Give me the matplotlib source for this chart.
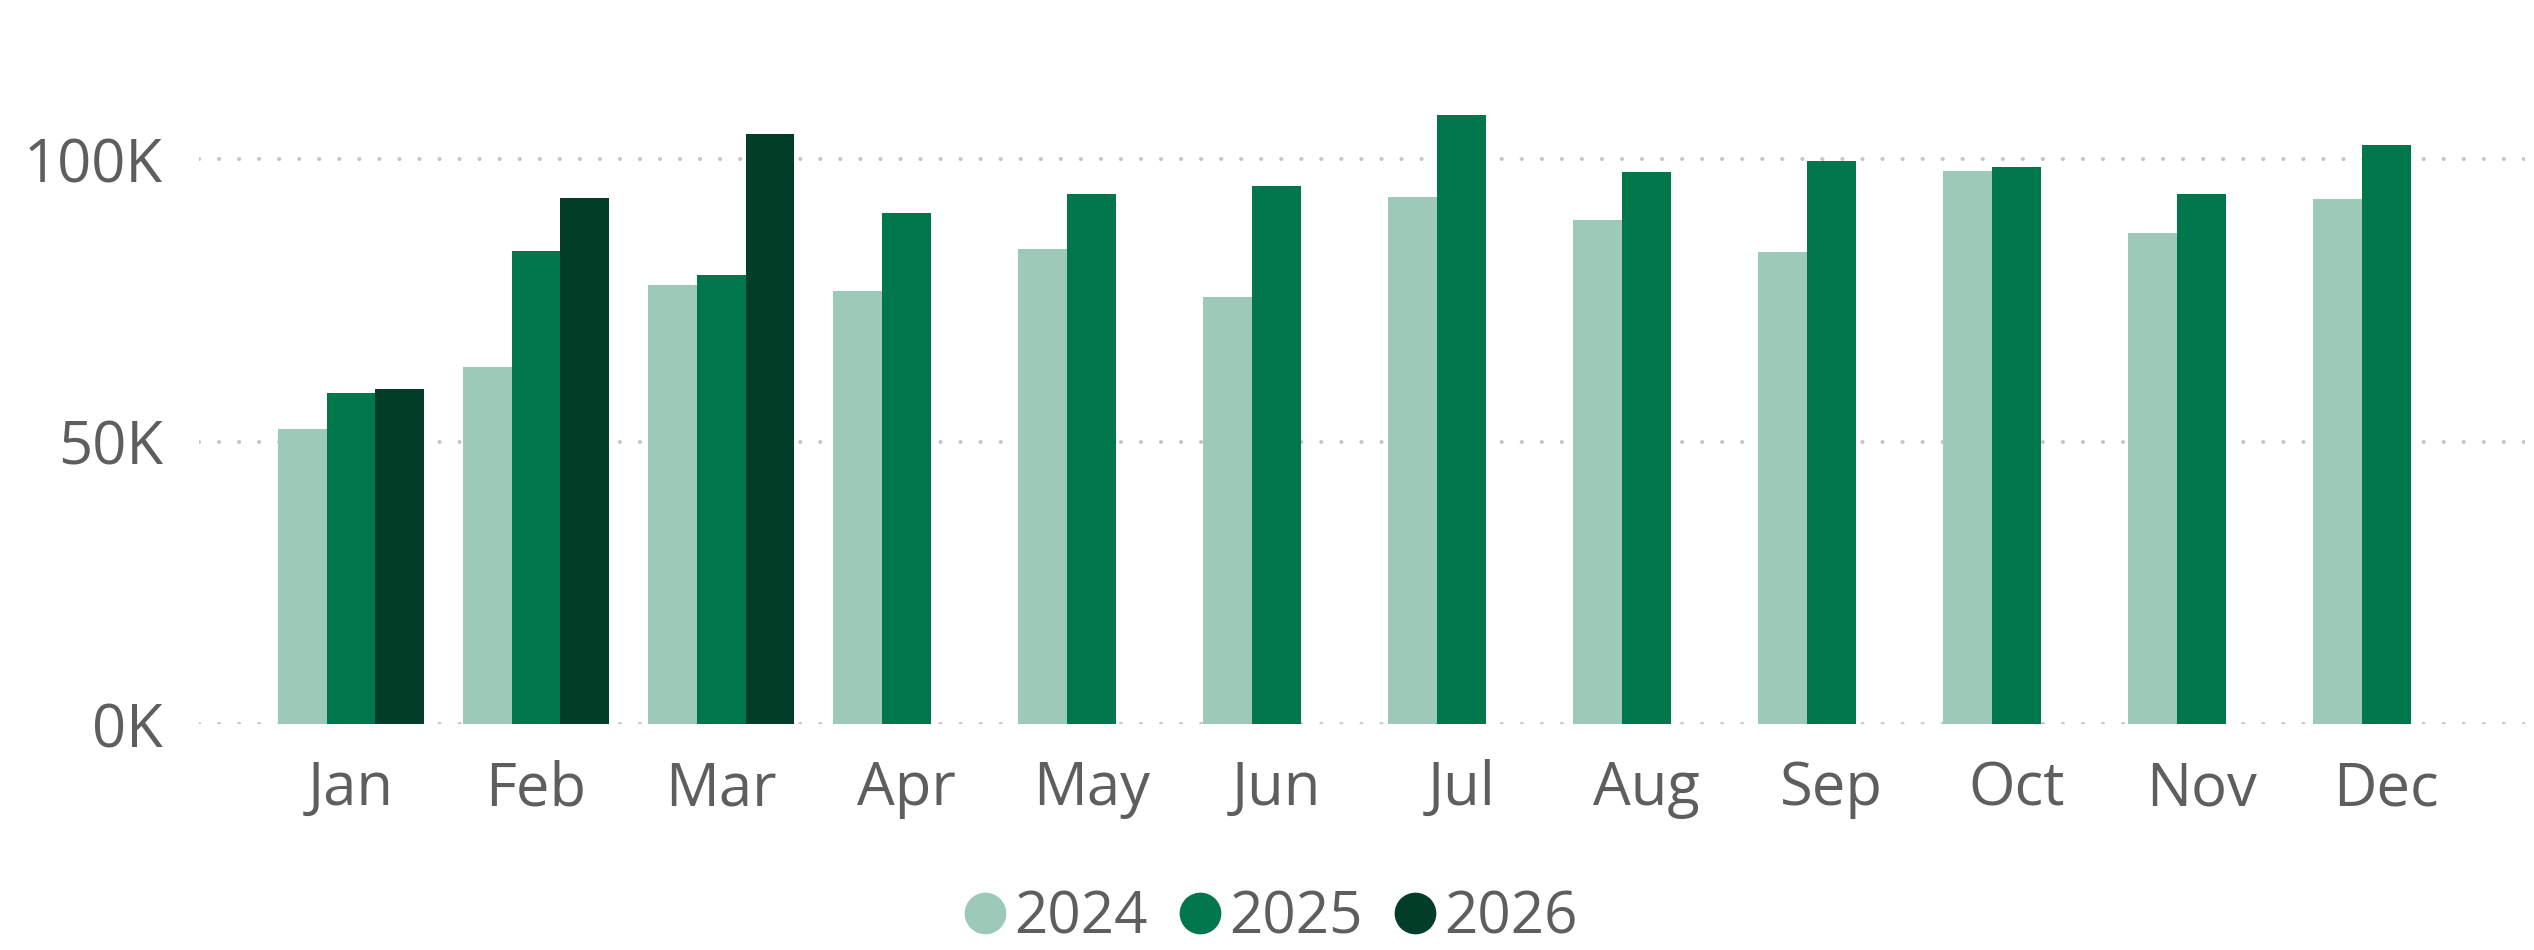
import matplotlib
matplotlib.use('Agg')
import matplotlib.pyplot as plt
from matplotlib.lines import Line2D
import numpy as np

# plot settings
plt.rcParams['font.family'] = ['Open Sans', 'DejaVu Sans']
plt.rcParams['text.color'] = '#605E5C'

### data (thousands) ###
months = ['Jan', 'Feb', 'Mar', 'Apr', 'May', 'Jun', 'Jul', 'Aug', 'Sep', 'Oct', 'Nov', 'Dec']
years = ['2024', '2025', '2026']
sales_2024 = [52.2, 63.3, 77.7, 76.6, 84.1, 75.6, 93.4, 89.2, 83.5, 98.0, 86.9, 92.9]
sales_2025 = [58.6, 83.7, 79.5, 90.5, 93.9, 95.2, 107.9, 97.7, 99.6, 98.7, 93.8, 102.6]
sales_2026 = [59.3, 93.1, 104.4, np.nan, np.nan, np.nan, np.nan, np.nan, np.nan, np.nan, np.nan, np.nan]
yticks = [0, 50, 100]

colors = ['#9CC9B8', '#00774A', '#013D27']
txt_col = '#605E5C'

fig = plt.figure(figsize=(25.34, 9.5), dpi=100)
ax = fig.add_axes([0.0785, 0.2374, 0.918, 0.714])

x = np.arange(len(months))
bw = 0.264
for i, (vals, c) in enumerate(zip([sales_2024, sales_2025, sales_2026], colors)):
    ax.bar(x + (i - 1)*bw, np.array(vals)*1000, width=bw, color=c, zorder=2)

ax.set_xlim(-0.822, 11.75)
ax.set_ylim(0, 120000)
ax.set_yticks([v*1000 for v in yticks])
ax.set_yticklabels(['{:d}K'.format(v) for v in yticks])
ax.set_xticks(x)
ax.set_xticklabels(months)

ax.tick_params(axis='y', length=0, pad=26, labelsize=43, labelcolor=txt_col)
ax.tick_params(axis='x', length=0, pad=25, labelsize=43, labelcolor=txt_col)
for s in ax.spines.values():
    s.set_visible(False)

# dotted gridlines
ax.yaxis.grid(True, color='#C8C6C4', linewidth=3.0, linestyle=(0, (0.01, 4.8)),
              dash_capstyle='round', zorder=0)
ax.set_axisbelow(True)

# legend
handles = [Line2D([], [], marker='o', linestyle='none', markersize=29,
                  markerfacecolor=c, markeredgecolor=c) for c in colors]
fig.legend(handles, years, loc='center', bbox_to_anchor=(0.5, 0.033), ncol=3,
           frameon=False, fontsize=42, handletextpad=0.0, columnspacing=0.4,
           handlelength=1.0, labelcolor=txt_col)

fig.savefig('out.png', dpi=100)
